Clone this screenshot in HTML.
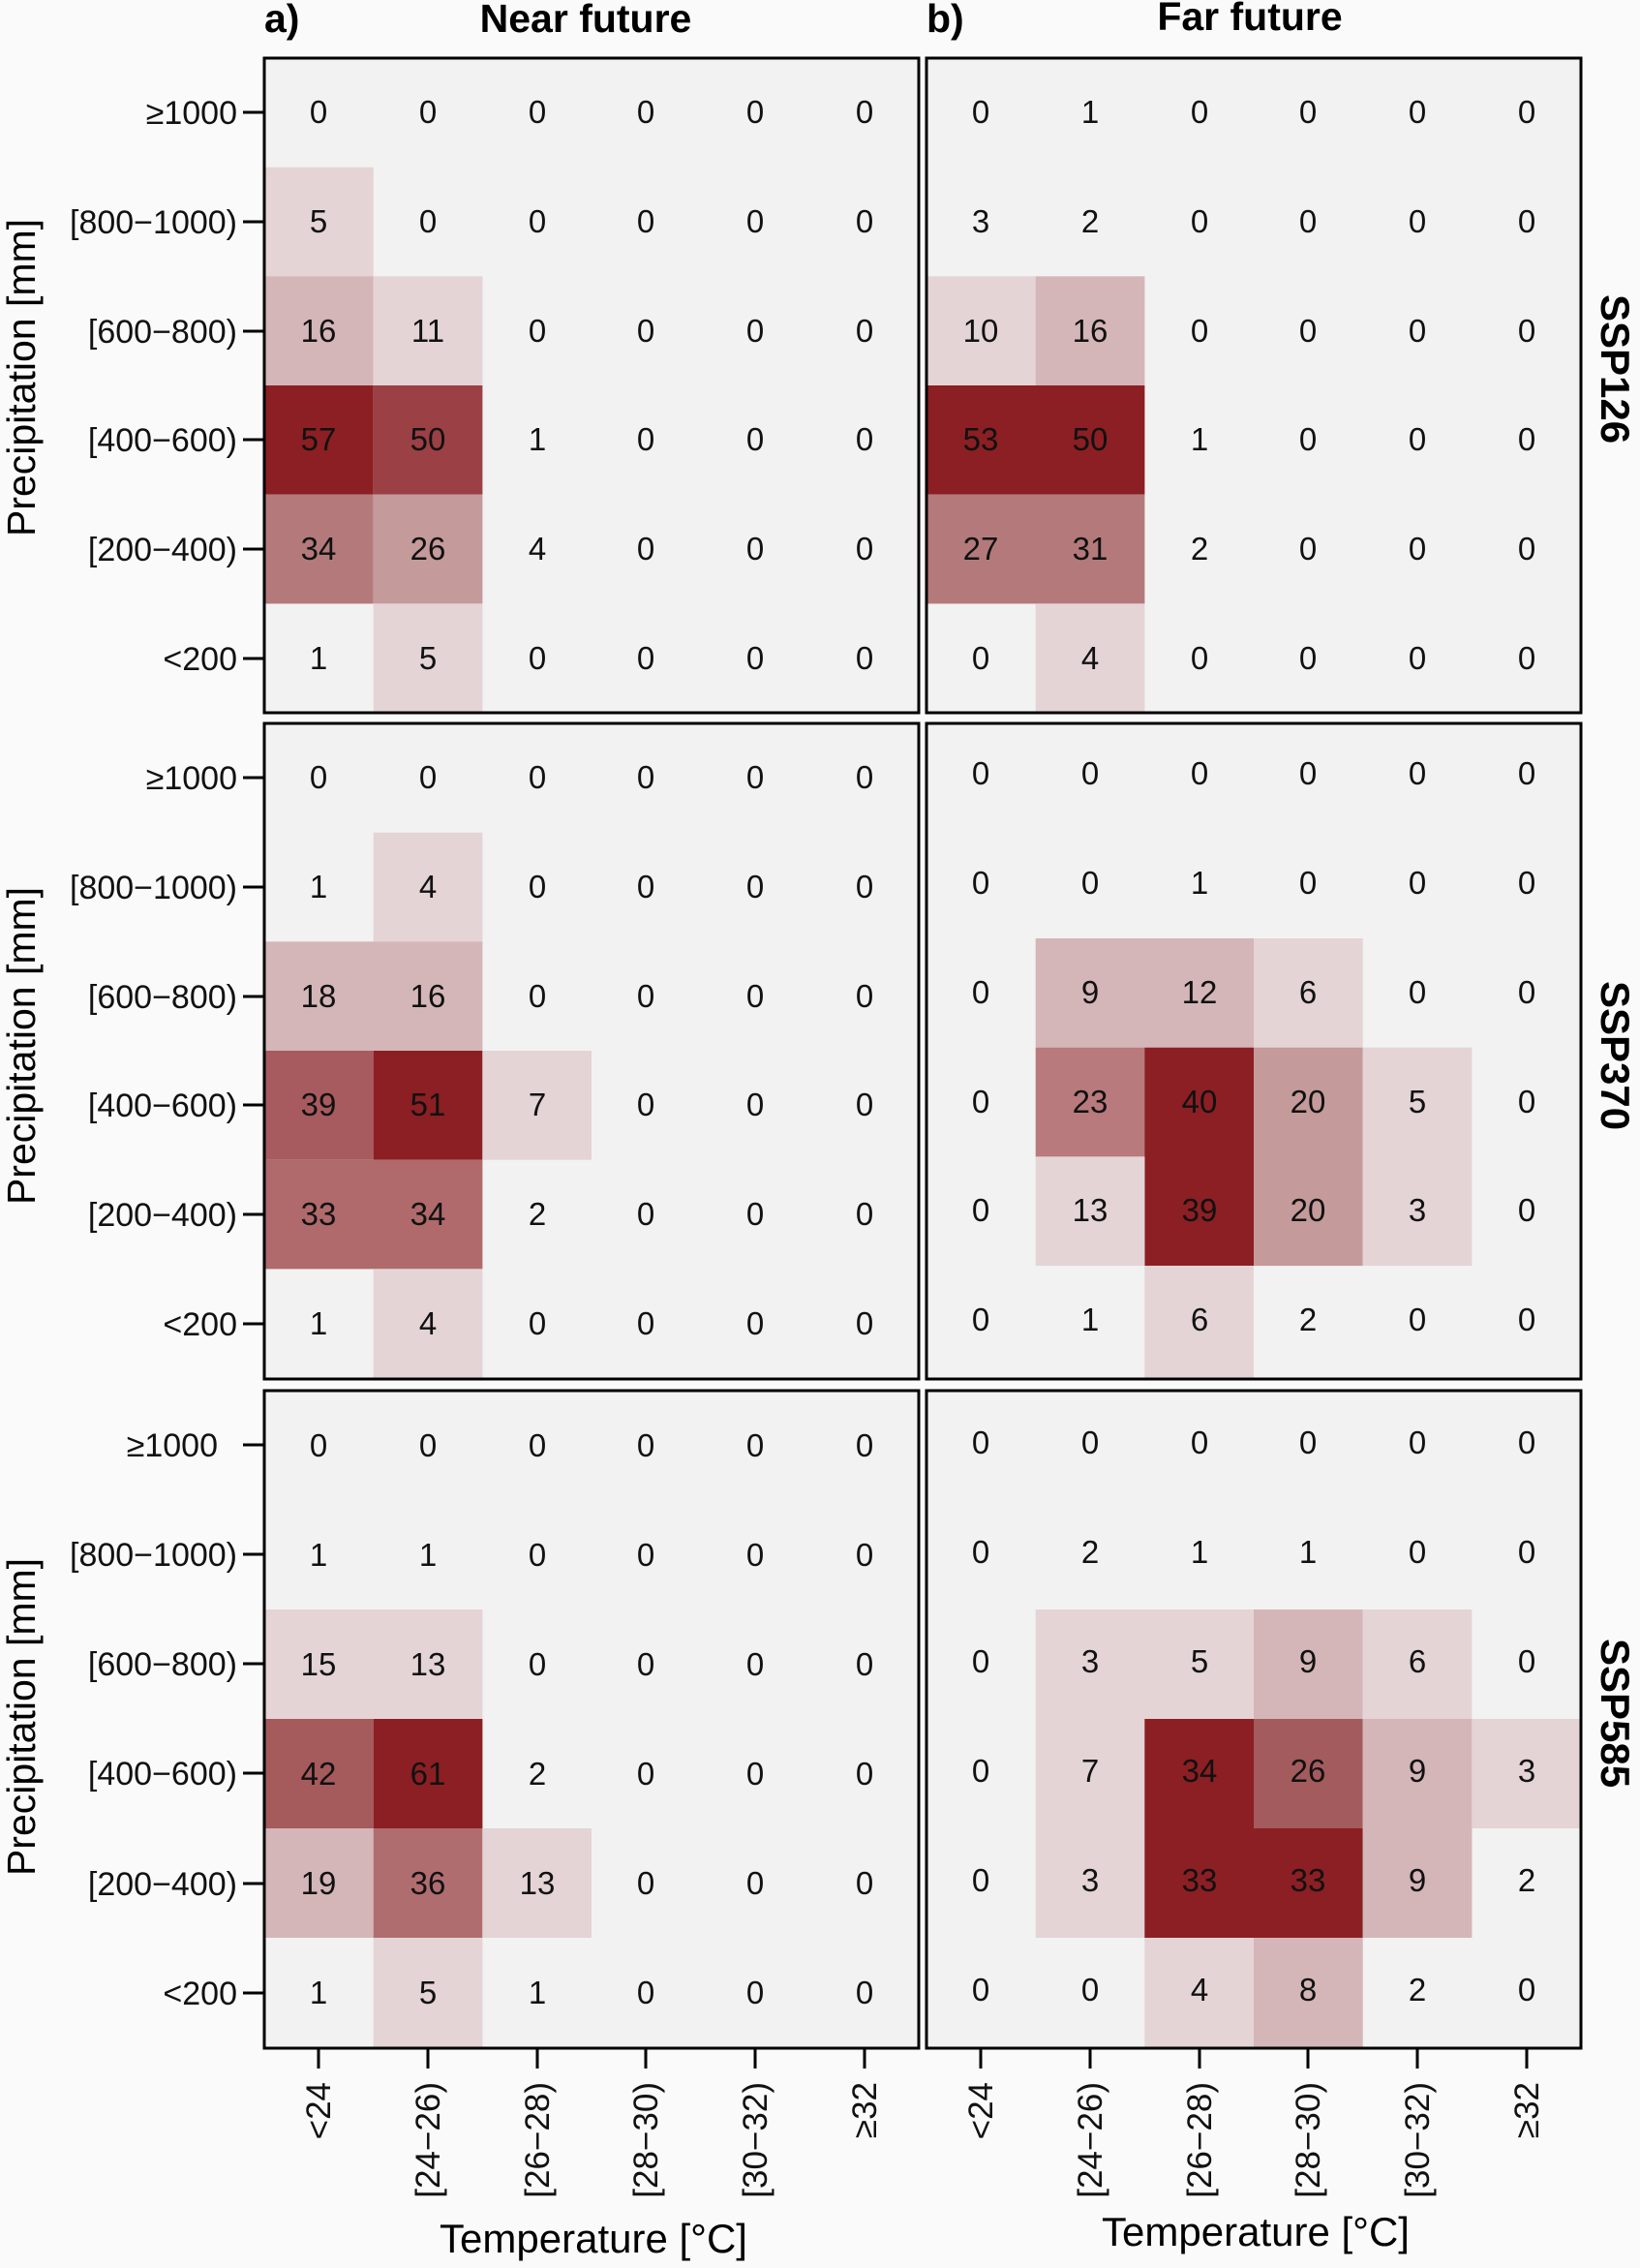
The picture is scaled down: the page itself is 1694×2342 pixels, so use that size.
<!DOCTYPE html>
<html><head><meta charset="utf-8"><style>
html,body{margin:0;padding:0;background:#fafafa}
svg{display:block}
text{font-family:"Liberation Sans",sans-serif}
.n{font-size:33px;text-anchor:middle;fill:#111}
.yl{font-size:34px;text-anchor:end;fill:#111}
.xl{font-size:35px;text-anchor:end;fill:#111}
</style></head><body>
<svg width="1694" height="2342" viewBox="0 0 1694 2342" xmlns="http://www.w3.org/2000/svg">
<rect width="1694" height="2342" fill="#fafafa"/>
<!-- titles -->
<text x="273" y="33" font-size="41" font-weight="bold">a)</text>
<text x="605" y="33" font-size="41" font-weight="bold" text-anchor="middle">Near future</text>
<text x="957" y="33" font-size="41" font-weight="bold">b)</text>
<text x="1291" y="31" font-size="41" font-weight="bold" text-anchor="middle">Far future</text>
<!-- right labels -->
<text transform="translate(1654,381) rotate(90)" font-size="42" font-weight="bold" text-anchor="middle">SSP126</text>
<text transform="translate(1654,1090) rotate(90)" font-size="42" font-weight="bold" text-anchor="middle">SSP370</text>
<text transform="translate(1654,1769) rotate(90)" font-size="42" font-weight="bold" text-anchor="middle">SSP585</text>
<!-- y titles -->
<text transform="translate(36,390) rotate(-90)" font-size="41" text-anchor="middle">Precipitation [mm]</text>
<text transform="translate(36,1080) rotate(-90)" font-size="41" text-anchor="middle">Precipitation [mm]</text>
<text transform="translate(36,1773) rotate(-90)" font-size="41" text-anchor="middle">Precipitation [mm]</text>

<!-- Panel a1 -->
<g transform="translate(273,60)">
<rect width="676" height="676" fill="#f2f2f2"/>
<rect x="0" y="112.7" width="112.7" height="112.7" fill="#e4d4d5"/>
<rect x="0" y="225.3" width="112.7" height="112.7" fill="#d4b6b8"/>
<rect x="112.7" y="225.3" width="112.7" height="112.7" fill="#e4d4d5"/>
<rect x="0" y="338" width="112.7" height="112.7" fill="#8b1f23"/>
<rect x="112.7" y="338" width="112.7" height="112.7" fill="#9b4045"/>
<rect x="0" y="450.7" width="112.7" height="112.7" fill="#b47a7b"/>
<rect x="112.7" y="450.7" width="112.7" height="112.7" fill="#c49a9b"/>
<rect x="112.7" y="563.3" width="112.7" height="112.7" fill="#e4d4d5"/>
<text class="n" x="56" y="67">0</text><text class="n" x="169" y="67">0</text><text class="n" x="282" y="67">0</text><text class="n" x="394" y="67">0</text><text class="n" x="507" y="67">0</text><text class="n" x="620" y="67">0</text>
<text class="n" x="56" y="180">5</text><text class="n" x="169" y="180">0</text><text class="n" x="282" y="180">0</text><text class="n" x="394" y="180">0</text><text class="n" x="507" y="180">0</text><text class="n" x="620" y="180">0</text>
<text class="n" x="56" y="293">16</text><text class="n" x="169" y="293">11</text><text class="n" x="282" y="293">0</text><text class="n" x="394" y="293">0</text><text class="n" x="507" y="293">0</text><text class="n" x="620" y="293">0</text>
<text class="n" x="56" y="405">57</text><text class="n" x="169" y="405">50</text><text class="n" x="282" y="405">1</text><text class="n" x="394" y="405">0</text><text class="n" x="507" y="405">0</text><text class="n" x="620" y="405">0</text>
<text class="n" x="56" y="518">34</text><text class="n" x="169" y="518">26</text><text class="n" x="282" y="518">4</text><text class="n" x="394" y="518">0</text><text class="n" x="507" y="518">0</text><text class="n" x="620" y="518">0</text>
<text class="n" x="56" y="631">1</text><text class="n" x="169" y="631">5</text><text class="n" x="282" y="631">0</text><text class="n" x="394" y="631">0</text><text class="n" x="507" y="631">0</text><text class="n" x="620" y="631">0</text>
<rect width="676" height="676" fill="none" stroke="#000" stroke-width="3"/>
<g stroke="#000" stroke-width="3"><line x1="-22" x2="0" y1="56" y2="56"/><line x1="-22" x2="0" y1="169" y2="169"/><line x1="-22" x2="0" y1="282" y2="282"/><line x1="-22" x2="0" y1="394" y2="394"/><line x1="-22" x2="0" y1="507" y2="507"/><line x1="-22" x2="0" y1="620" y2="620"/></g>
<text class="yl" x="-28" y="68">≥1000</text><text class="yl" x="-28" y="181">[800−1000)</text><text class="yl" x="-28" y="294">[600−800)</text><text class="yl" x="-28" y="406">[400−600)</text><text class="yl" x="-28" y="519">[200−400)</text><text class="yl" x="-28" y="632">&lt;200</text>
</g>

<!-- Panel b1 -->
<g transform="translate(957,60)">
<rect width="676" height="676" fill="#f2f2f2"/>
<rect x="0" y="225.3" width="112.7" height="112.7" fill="#e4d4d5"/>
<rect x="112.7" y="225.3" width="112.7" height="112.7" fill="#d4b6b8"/>
<rect x="0" y="338" width="225.4" height="112.7" fill="#8b1f23"/>
<rect x="0" y="450.7" width="225.4" height="112.7" fill="#b47a7b"/>
<rect x="112.7" y="563.3" width="112.7" height="112.7" fill="#e4d4d5"/>
<text class="n" x="56" y="67">0</text><text class="n" x="169" y="67">1</text><text class="n" x="282" y="67">0</text><text class="n" x="394" y="67">0</text><text class="n" x="507" y="67">0</text><text class="n" x="620" y="67">0</text>
<text class="n" x="56" y="180">3</text><text class="n" x="169" y="180">2</text><text class="n" x="282" y="180">0</text><text class="n" x="394" y="180">0</text><text class="n" x="507" y="180">0</text><text class="n" x="620" y="180">0</text>
<text class="n" x="56" y="293">10</text><text class="n" x="169" y="293">16</text><text class="n" x="282" y="293">0</text><text class="n" x="394" y="293">0</text><text class="n" x="507" y="293">0</text><text class="n" x="620" y="293">0</text>
<text class="n" x="56" y="405">53</text><text class="n" x="169" y="405">50</text><text class="n" x="282" y="405">1</text><text class="n" x="394" y="405">0</text><text class="n" x="507" y="405">0</text><text class="n" x="620" y="405">0</text>
<text class="n" x="56" y="518">27</text><text class="n" x="169" y="518">31</text><text class="n" x="282" y="518">2</text><text class="n" x="394" y="518">0</text><text class="n" x="507" y="518">0</text><text class="n" x="620" y="518">0</text>
<text class="n" x="56" y="631">0</text><text class="n" x="169" y="631">4</text><text class="n" x="282" y="631">0</text><text class="n" x="394" y="631">0</text><text class="n" x="507" y="631">0</text><text class="n" x="620" y="631">0</text>
<rect width="676" height="676" fill="none" stroke="#000" stroke-width="3"/>
</g>

<!-- Panel a2 -->
<g transform="translate(273,747)">
<rect width="676" height="677" fill="#f2f2f2"/>
<rect x="112.7" y="112.7" width="112.7" height="112.7" fill="#e4d4d5"/>
<rect x="0" y="225.3" width="225.4" height="112.7" fill="#d4b6b8"/>
<rect x="0" y="338" width="112.7" height="112.7" fill="#a85b5e"/>
<rect x="112.7" y="338" width="112.7" height="112.7" fill="#8b1f23"/>
<rect x="225.3" y="338" width="112.7" height="112.7" fill="#e4d4d5"/>
<rect x="0" y="450.7" width="225.4" height="112.7" fill="#b06a6c"/>
<rect x="112.7" y="563.3" width="112.7" height="113" fill="#e4d4d5"/>
<text class="n" x="56" y="67">0</text><text class="n" x="169" y="67">0</text><text class="n" x="282" y="67">0</text><text class="n" x="394" y="67">0</text><text class="n" x="507" y="67">0</text><text class="n" x="620" y="67">0</text>
<text class="n" x="56" y="180">1</text><text class="n" x="169" y="180">4</text><text class="n" x="282" y="180">0</text><text class="n" x="394" y="180">0</text><text class="n" x="507" y="180">0</text><text class="n" x="620" y="180">0</text>
<text class="n" x="56" y="293">18</text><text class="n" x="169" y="293">16</text><text class="n" x="282" y="293">0</text><text class="n" x="394" y="293">0</text><text class="n" x="507" y="293">0</text><text class="n" x="620" y="293">0</text>
<text class="n" x="56" y="405">39</text><text class="n" x="169" y="405">51</text><text class="n" x="282" y="405">7</text><text class="n" x="394" y="405">0</text><text class="n" x="507" y="405">0</text><text class="n" x="620" y="405">0</text>
<text class="n" x="56" y="518">33</text><text class="n" x="169" y="518">34</text><text class="n" x="282" y="518">2</text><text class="n" x="394" y="518">0</text><text class="n" x="507" y="518">0</text><text class="n" x="620" y="518">0</text>
<text class="n" x="56" y="631">1</text><text class="n" x="169" y="631">4</text><text class="n" x="282" y="631">0</text><text class="n" x="394" y="631">0</text><text class="n" x="507" y="631">0</text><text class="n" x="620" y="631">0</text>
<rect width="676" height="677" fill="none" stroke="#000" stroke-width="3"/>
<g stroke="#000" stroke-width="3"><line x1="-22" x2="0" y1="56" y2="56"/><line x1="-22" x2="0" y1="169" y2="169"/><line x1="-22" x2="0" y1="282" y2="282"/><line x1="-22" x2="0" y1="394" y2="394"/><line x1="-22" x2="0" y1="507" y2="507"/><line x1="-22" x2="0" y1="620" y2="620"/></g>
<text class="yl" x="-28" y="68">≥1000</text><text class="yl" x="-28" y="181">[800−1000)</text><text class="yl" x="-28" y="294">[600−800)</text><text class="yl" x="-28" y="406">[400−600)</text><text class="yl" x="-28" y="519">[200−400)</text><text class="yl" x="-28" y="632">&lt;200</text>
</g>

<!-- Panel b2 -->
<g transform="translate(957,747)">
<rect width="676" height="677" fill="#f2f2f2"/>
<rect x="112.7" y="222" width="225.4" height="112.7" fill="#d4b6b8"/>
<rect x="338" y="222" width="112.7" height="112.7" fill="#e4d4d5"/>
<rect x="112.7" y="334.7" width="112.7" height="112.7" fill="#b87a7c"/>
<rect x="225.3" y="334.7" width="112.7" height="225.4" fill="#8b1f23"/>
<rect x="338" y="334.7" width="112.7" height="225.4" fill="#c49a9b"/>
<rect x="450.7" y="334.7" width="112.7" height="225.4" fill="#e4d4d5"/>
<rect x="112.7" y="447.4" width="112.7" height="112.7" fill="#e4d4d5"/>
<rect x="225.3" y="560" width="112.7" height="117" fill="#e4d4d5"/>
<text class="n" x="56" y="63">0</text><text class="n" x="169" y="63">0</text><text class="n" x="282" y="63">0</text><text class="n" x="394" y="63">0</text><text class="n" x="507" y="63">0</text><text class="n" x="620" y="63">0</text>
<text class="n" x="56" y="176">0</text><text class="n" x="169" y="176">0</text><text class="n" x="282" y="176">1</text><text class="n" x="394" y="176">0</text><text class="n" x="507" y="176">0</text><text class="n" x="620" y="176">0</text>
<text class="n" x="56" y="289">0</text><text class="n" x="169" y="289">9</text><text class="n" x="282" y="289">12</text><text class="n" x="394" y="289">6</text><text class="n" x="507" y="289">0</text><text class="n" x="620" y="289">0</text>
<text class="n" x="56" y="402">0</text><text class="n" x="169" y="402">23</text><text class="n" x="282" y="402">40</text><text class="n" x="394" y="402">20</text><text class="n" x="507" y="402">5</text><text class="n" x="620" y="402">0</text>
<text class="n" x="56" y="514">0</text><text class="n" x="169" y="514">13</text><text class="n" x="282" y="514">39</text><text class="n" x="394" y="514">20</text><text class="n" x="507" y="514">3</text><text class="n" x="620" y="514">0</text>
<text class="n" x="56" y="627">0</text><text class="n" x="169" y="627">1</text><text class="n" x="282" y="627">6</text><text class="n" x="394" y="627">2</text><text class="n" x="507" y="627">0</text><text class="n" x="620" y="627">0</text>
<rect width="676" height="677" fill="none" stroke="#000" stroke-width="3"/>
</g>

<!-- Panel a3 -->
<g transform="translate(273,1436)">
<rect width="676" height="679" fill="#f2f2f2"/>
<rect x="0" y="226" width="225.4" height="113" fill="#e4d4d5"/>
<rect x="0" y="339" width="112.7" height="113" fill="#a55a5c"/>
<rect x="112.7" y="339" width="112.7" height="113" fill="#8b1f23"/>
<rect x="0" y="452" width="112.7" height="113" fill="#d4b6b8"/>
<rect x="112.7" y="452" width="112.7" height="113" fill="#b06d6f"/>
<rect x="225.3" y="452" width="112.7" height="113" fill="#e4d4d5"/>
<rect x="112.7" y="565" width="112.7" height="114" fill="#e4d4d5"/>
<text class="n" x="56" y="68">0</text><text class="n" x="169" y="68">0</text><text class="n" x="282" y="68">0</text><text class="n" x="394" y="68">0</text><text class="n" x="507" y="68">0</text><text class="n" x="620" y="68">0</text>
<text class="n" x="56" y="181">1</text><text class="n" x="169" y="181">1</text><text class="n" x="282" y="181">0</text><text class="n" x="394" y="181">0</text><text class="n" x="507" y="181">0</text><text class="n" x="620" y="181">0</text>
<text class="n" x="56" y="294">15</text><text class="n" x="169" y="294">13</text><text class="n" x="282" y="294">0</text><text class="n" x="394" y="294">0</text><text class="n" x="507" y="294">0</text><text class="n" x="620" y="294">0</text>
<text class="n" x="56" y="407">42</text><text class="n" x="169" y="407">61</text><text class="n" x="282" y="407">2</text><text class="n" x="394" y="407">0</text><text class="n" x="507" y="407">0</text><text class="n" x="620" y="407">0</text>
<text class="n" x="56" y="520">19</text><text class="n" x="169" y="520">36</text><text class="n" x="282" y="520">13</text><text class="n" x="394" y="520">0</text><text class="n" x="507" y="520">0</text><text class="n" x="620" y="520">0</text>
<text class="n" x="56" y="633">1</text><text class="n" x="169" y="633">5</text><text class="n" x="282" y="633">1</text><text class="n" x="394" y="633">0</text><text class="n" x="507" y="633">0</text><text class="n" x="620" y="633">0</text>
<rect width="676" height="679" fill="none" stroke="#000" stroke-width="3"/>
<g stroke="#000" stroke-width="3"><line x1="-22" x2="0" y1="56" y2="56"/><line x1="-22" x2="0" y1="169" y2="169"/><line x1="-22" x2="0" y1="282" y2="282"/><line x1="-22" x2="0" y1="395" y2="395"/><line x1="-22" x2="0" y1="509" y2="509"/><line x1="-22" x2="0" y1="622" y2="622"/>
<line x1="56" x2="56" y1="679" y2="700"/><line x1="169" x2="169" y1="679" y2="700"/><line x1="282" x2="282" y1="679" y2="700"/><line x1="394" x2="394" y1="679" y2="700"/><line x1="507" x2="507" y1="679" y2="700"/><line x1="620" x2="620" y1="679" y2="700"/></g>
<text class="yl" x="-48" y="68">≥1000</text><text class="yl" x="-28" y="181">[800−1000)</text><text class="yl" x="-28" y="294">[600−800)</text><text class="yl" x="-28" y="407">[400−600)</text><text class="yl" x="-28" y="521">[200−400)</text><text class="yl" x="-28" y="634">&lt;200</text>
<text class="xl" transform="translate(68,714) rotate(-90)">&lt;24</text>
<text class="xl" transform="translate(181,714) rotate(-90)">[24−26)</text>
<text class="xl" transform="translate(294,714) rotate(-90)">[26−28)</text>
<text class="xl" transform="translate(406,714) rotate(-90)">[28−30)</text>
<text class="xl" transform="translate(519,714) rotate(-90)">[30−32)</text>
<text class="xl" transform="translate(632,714) rotate(-90)">≥32</text>
<text x="340" y="890" font-size="42" text-anchor="middle">Temperature [°C]</text>
</g>

<!-- Panel b3 -->
<g transform="translate(957,1436)">
<rect width="676" height="679" fill="#f2f2f2"/>
<rect x="112.7" y="226" width="225.4" height="113" fill="#e4d4d5"/>
<rect x="338" y="226" width="112.7" height="113" fill="#d4b6b8"/>
<rect x="450.7" y="226" width="112.7" height="113" fill="#e4d4d5"/>
<rect x="112.7" y="339" width="112.7" height="226" fill="#e4d4d5"/>
<rect x="225.3" y="339" width="112.7" height="226" fill="#8b1f23"/>
<rect x="338" y="339" width="112.7" height="113" fill="#a45b5d"/>
<rect x="338" y="452" width="112.7" height="113" fill="#8b1f23"/>
<rect x="450.7" y="339" width="112.7" height="226" fill="#d4b6b8"/>
<rect x="563.3" y="339" width="112.7" height="113" fill="#e4d4d5"/>
<rect x="225.3" y="565" width="112.7" height="114" fill="#e4d4d5"/>
<rect x="338" y="565" width="112.7" height="114" fill="#d4b6b8"/>
<text class="n" x="56" y="65">0</text><text class="n" x="169" y="65">0</text><text class="n" x="282" y="65">0</text><text class="n" x="394" y="65">0</text><text class="n" x="507" y="65">0</text><text class="n" x="620" y="65">0</text>
<text class="n" x="56" y="178">0</text><text class="n" x="169" y="178">2</text><text class="n" x="282" y="178">1</text><text class="n" x="394" y="178">1</text><text class="n" x="507" y="178">0</text><text class="n" x="620" y="178">0</text>
<text class="n" x="56" y="291">0</text><text class="n" x="169" y="291">3</text><text class="n" x="282" y="291">5</text><text class="n" x="394" y="291">9</text><text class="n" x="507" y="291">6</text><text class="n" x="620" y="291">0</text>
<text class="n" x="56" y="404">0</text><text class="n" x="169" y="404">7</text><text class="n" x="282" y="404">34</text><text class="n" x="394" y="404">26</text><text class="n" x="507" y="404">9</text><text class="n" x="620" y="404">3</text>
<text class="n" x="56" y="517">0</text><text class="n" x="169" y="517">3</text><text class="n" x="282" y="517">33</text><text class="n" x="394" y="517">33</text><text class="n" x="507" y="517">9</text><text class="n" x="620" y="517">2</text>
<text class="n" x="56" y="630">0</text><text class="n" x="169" y="630">0</text><text class="n" x="282" y="630">4</text><text class="n" x="394" y="630">8</text><text class="n" x="507" y="630">2</text><text class="n" x="620" y="630">0</text>
<rect width="676" height="679" fill="none" stroke="#000" stroke-width="3"/>
<g stroke="#000" stroke-width="3"><line x1="56" x2="56" y1="679" y2="700"/><line x1="169" x2="169" y1="679" y2="700"/><line x1="282" x2="282" y1="679" y2="700"/><line x1="394" x2="394" y1="679" y2="700"/><line x1="507" x2="507" y1="679" y2="700"/><line x1="620" x2="620" y1="679" y2="700"/></g>
<text class="xl" transform="translate(68,714) rotate(-90)">&lt;24</text>
<text class="xl" transform="translate(181,714) rotate(-90)">[24−26)</text>
<text class="xl" transform="translate(294,714) rotate(-90)">[26−28)</text>
<text class="xl" transform="translate(406,714) rotate(-90)">[28−30)</text>
<text class="xl" transform="translate(519,714) rotate(-90)">[30−32)</text>
<text class="xl" transform="translate(632,714) rotate(-90)">≥32</text>
<text x="340" y="883" font-size="42" text-anchor="middle">Temperature [°C]</text>
</g>
</svg>
</body></html>
